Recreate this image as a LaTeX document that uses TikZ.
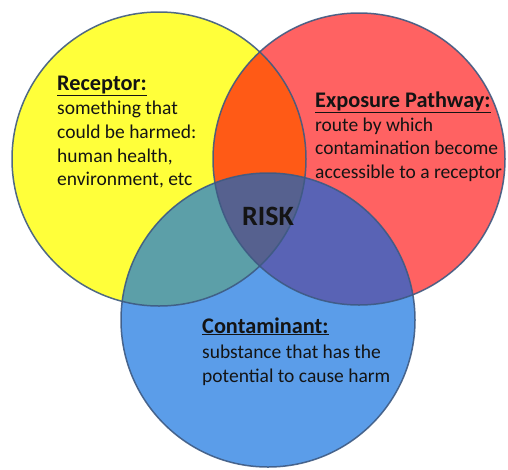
\documentclass[tikz,border=0pt]{standalone}
\usepackage{fontspec}
\setmainfont{Carlito}
\definecolor{cyel}{HTML}{FFFF3A}
\definecolor{cred}{HTML}{FF6262}
\definecolor{cblu}{HTML}{5B9DE9}
\definecolor{corg}{HTML}{FF5A16}
\definecolor{cteal}{HTML}{5C9FA8}
\definecolor{cpur}{HTML}{5963B5}
\definecolor{cmid}{HTML}{56618F}
\definecolor{cedge}{HTML}{3E5A82}
\definecolor{ctxt}{HTML}{141414}
\tikzset{
  body/.style={anchor=base west, inner sep=0pt, text=ctxt, font=\fontsize{19.5}{24}\selectfont},
  head/.style={body, font=\fontsize{22.3}{26}\selectfont\bfseries},
  ring/.style={draw=cedge, line width=1.5pt, draw opacity=0.9},
}
\newcommand{\ul}[1]{\underline{#1}}
\begin{document}
\begin{tikzpicture}[x=1pt,y=-1pt]
\fill[white] (0,0) rectangle (508,469);
\useasboundingbox (0,0) rectangle (508,469);
\coordinate (Y) at (159,159);
\coordinate (R) at (359,159);
\coordinate (B) at (268,320);
\def\rY{147pt}\def\rR{146pt}\def\rB{147pt}
% base fills
\fill[cyel] (Y) circle (\rY);
\fill[cred] (R) circle (\rR);
\fill[cblu] (B) circle (\rB);
% pairwise overlaps
\begin{scope}\clip (Y) circle (\rY); \fill[corg] (R) circle (\rR); \end{scope}
\begin{scope}\clip (Y) circle (\rY); \fill[cteal] (B) circle (\rB); \end{scope}
\begin{scope}\clip (R) circle (\rR); \fill[cpur] (B) circle (\rB); \end{scope}
\begin{scope}\clip (Y) circle (\rY); \clip (R) circle (\rR); \fill[cmid] (B) circle (\rB); \end{scope}
% outlines
\draw[ring] (Y) circle (\rY);
\draw[ring] (R) circle (\rR);
\draw[ring] (B) circle (\rB);
% Receptor
\node[head] (rh) at (57,90) {\ul{Receptor:}};
\node[body] (r1) at (57,114) {something that};
\node[body] (r2) at (57,138) {could be harmed:};
\node[body] (r3) at (57,162) {human health,};
\node[body] (r4) at (57,185) {environment, etc};
% Exposure pathway
\node[head] (eh) at (315,107) {\ul{Exposure Pathway:}};
\node[body] (e1) at (315,131) {route by which};
\node[body] (e2) at (315,154) {contamination become};
\node[body] (e3) at (315,178) {accessible to a receptor};
% Contaminant
\node[head] (ch) at (202,333) {\ul{Contaminant:}};
\node[body] (c1) at (202,358) {substance that has the};
\node[body] (c2) at (202,382) {potential to cause harm};
% Risk
\node[anchor=base, inner sep=0pt, text=ctxt, font=\fontsize{28}{30}\selectfont\bfseries] (risk) at (268,225) {RISK};
\end{tikzpicture}
\end{document}
